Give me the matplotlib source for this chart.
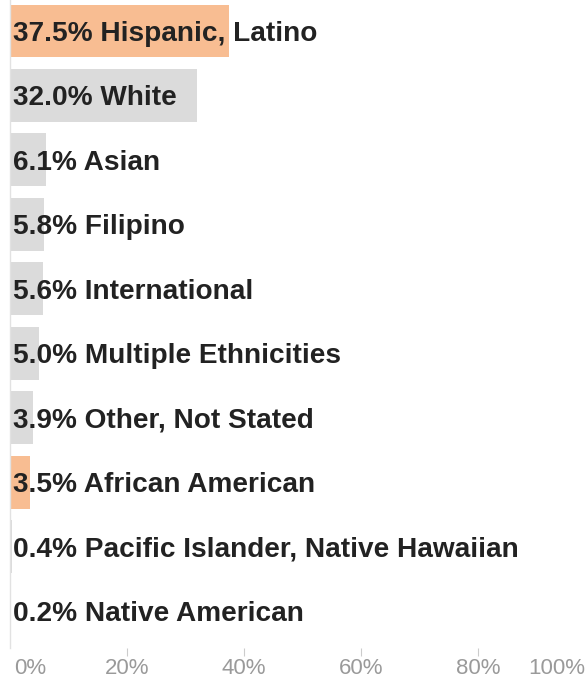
import matplotlib
matplotlib.use("Agg")
import matplotlib.pyplot as plt
from matplotlib.transforms import offset_copy, ScaledTranslation

categories = ["Hispanic, Latino", "White", "Asian", "Filipino", "International",
              "Multiple Ethnicities", "Other, Not Stated", "African American",
              "Pacific Islander, Native Hawaiian", "Native American"]
values = [37.5, 32.0, 6.1, 5.8, 5.6, 5.0, 3.9, 3.5, 0.4, 0.2]
highlight = [True, False, False, False, False, False, False, True, False, True]
tick_values = [0, 20, 40, 60, 80, 100]
tick_labels = ["0%", "20%", "40%", "60%", "80%", "100%"]

ORANGE = "#F8BD92"
GRAY = "#DBDBDB"

W, H = 587, 681
fig = plt.figure(figsize=(W / 100, H / 100), dpi=100)
plt.rcParams["font.family"] = ["Liberation Sans", "DejaVu Sans"]

left_px, right_px = 10, 595
top_px, bottom_px = -1.25, 648
ax = fig.add_axes([left_px / W, 1 - bottom_px / H,
                   (right_px - left_px) / W, (bottom_px - top_px) / H])

pos = list(range(len(values)))
colors = [ORANGE if h else GRAY for h in highlight]
ax.barh(pos, values, height=0.82, color=colors, edgecolor="none")

ax.set_xlim(0, 100)
ax.set_ylim(9.5 + (648 - 643.25) / 64.5, -0.5)

tr = offset_copy(ax.transData, fig=fig, x=3, y=-3, units="dots")
for p, v, c in zip(pos, values, categories):
    ax.text(0, p, f"{v:.1f}% {c}", transform=tr, ha="left", va="center",
            fontsize=20.2, fontweight="bold", color="#222222")

ax.set_yticks([])
ax.set_xticks(tick_values)
ax.set_xticklabels(tick_labels, fontsize=16, color="#9a9a9a")
ax.tick_params(axis="x", length=6, width=0.8, color="#cccccc", pad=1.5)
labels = ax.get_xticklabels()
labels[0].set_ha("left")
labels[0].set_transform(labels[0].get_transform() +
                        ScaledTranslation(4 / 100, 0, fig.dpi_scale_trans))
labels[-1].set_ha("right")
labels[-1].set_transform(labels[-1].get_transform() +
                         ScaledTranslation(-10 / 100, 0, fig.dpi_scale_trans))
ticks = ax.xaxis.get_major_ticks()
ticks[0].tick1line.set_visible(False)
ticks[-1].tick1line.set_visible(False)

for s in ["top", "right", "bottom"]:
    ax.spines[s].set_visible(False)
ax.spines["left"].set_color("#e2e2e2")
ax.spines["left"].set_linewidth(1)

fig.savefig("out.png", dpi=100)
